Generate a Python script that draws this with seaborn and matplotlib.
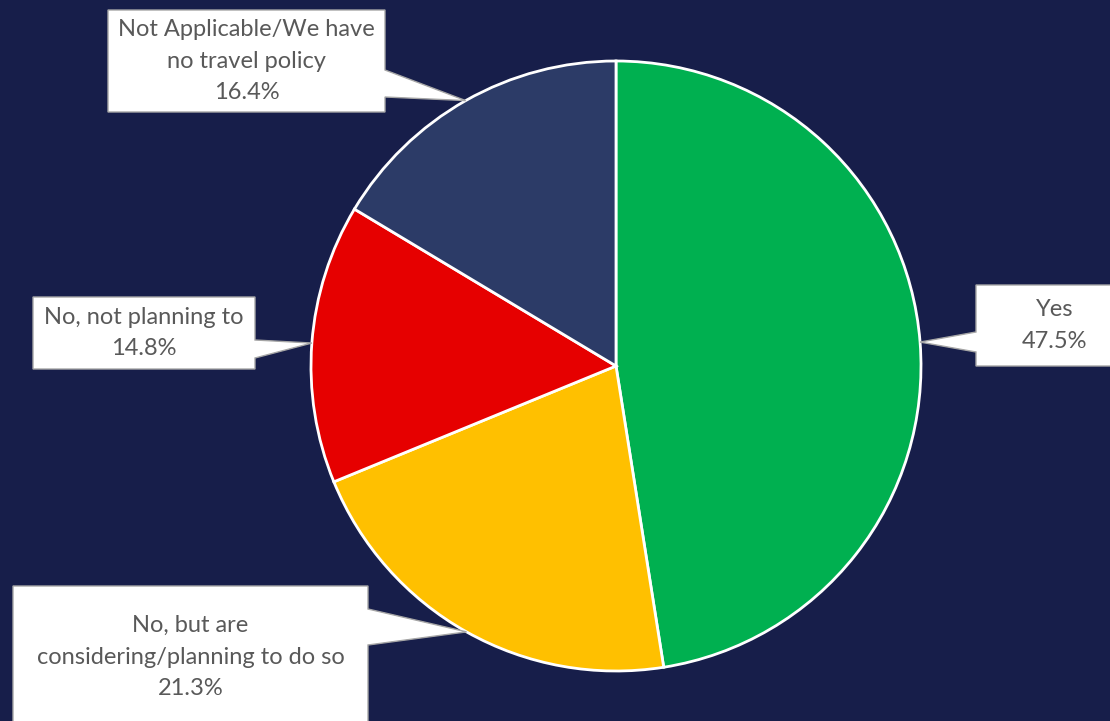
import matplotlib
matplotlib.use("Agg")
import matplotlib.pyplot as plt
import seaborn as sns
import numpy as np
from matplotlib.patches import Polygon

# data
categories = ["Yes",
              "No, but are\nconsidering/planning to do so",
              "No, not planning to",
              "Not Applicable/We have\nno travel policy"]
values = [47.5, 21.3, 14.8, 16.4]
colors = ["#00B050", "#FFC000", "#E60000", "#2C3B67"]

BG = "#171E4A"
W, H = 1110, 721

sns.set_theme(style="white", rc={"figure.facecolor": BG, "axes.facecolor": BG})
plt.rcParams["font.family"] = ["Lato", "DejaVu Sans"]

fig = plt.figure(figsize=(W / 100, H / 100), dpi=100)
ax = fig.add_axes([0, 0, 1, 1])

cx, cy, r = 616, H - 366, 305
wedges, _ = ax.pie(values, colors=colors, startangle=90, counterclock=False,
                   center=(cx, cy), radius=r, frame=True,
                   wedgeprops=dict(edgecolor="white", linewidth=2))
ax.set_xlim(0, W)
ax.set_ylim(0, H)
ax.set_aspect("equal")
ax.axis("off")

# callout layout in pixel coords: box (x0, y0, x1, y1), pointer side, pointer base (ya, yb)
callouts = [
    ((976, 285, 1134, 366), "left", (332, 352)),
    ((13, 586, 368, 728), "right", (609, 645)),
    ((33, 297, 255, 369), "right", (340, 358)),
    ((108, 10, 385, 112), "right", (70, 97)),
]

for w, lab, val, (box, side, base) in zip(wedges, categories, values, callouts):
    # pointer tip sits on the rim at the middle of the slice
    mid = np.deg2rad((w.theta1 + w.theta2) / 2)
    tx, ty = cx + r * np.cos(mid), cy + r * np.sin(mid)
    x0, y0, x1, y1 = box
    Y0, Y1 = H - y0, H - y1
    ya, yb = H - base[0], H - base[1]
    if side == "right":
        pts = [(x0, Y0), (x1, Y0), (x1, ya), (tx, ty), (x1, yb), (x1, Y1), (x0, Y1)]
    else:
        pts = [(x0, Y0), (x1, Y0), (x1, Y1), (x0, Y1), (x0, yb), (tx, ty), (x0, ya)]
    ax.add_patch(Polygon(pts, closed=True, facecolor="white", edgecolor="#A6A6A6",
                         linewidth=1, zorder=5))
    ax.text((x0 + x1) / 2, (Y0 + Y1) / 2, f"{lab}\n{val:.1f}%", ha="center", va="center",
            fontsize=17, color="#595959", linespacing=1.6, zorder=6)

fig.savefig("out.png", dpi=100, facecolor=BG)
